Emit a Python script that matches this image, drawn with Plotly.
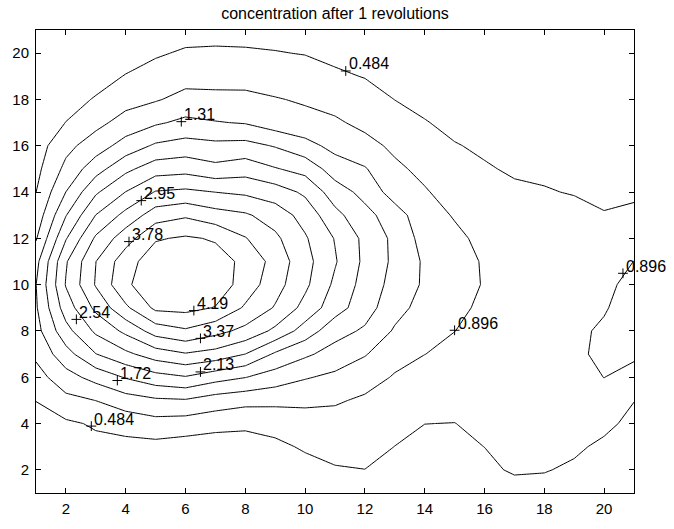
import numpy as np
import plotly.graph_objects as go

# grid coordinates
x_vals = list(range(1, 22))
y_vals = list(range(1, 22))

# concentration values, one list per x column (entries for y = 1 .. 21)
conc_x01 = [0.06,0.14,0.25,0.37,0.49,0.73,0.98,1.16,1.26,1.30,1.18,0.86,0.64,0.48,0.37,0.29,0.23,0.18,0.14,0.11,0.09]
conc_x02 = [0.10,0.20,0.32,0.42,0.78,1.15,1.56,1.99,2.33,2.57,2.50,2.10,1.70,1.31,1.00,0.78,0.49,0.36,0.26,0.19,0.14]
conc_x03 = [0.12,0.24,0.38,0.53,0.90,1.45,2.12,2.62,3.05,3.40,3.36,3.02,2.55,2.07,1.55,1.10,0.78,0.51,0.36,0.26,0.19]
conc_x04 = [0.13,0.24,0.36,0.64,1.12,1.75,2.45,3.05,3.70,4.12,4.02,3.60,3.08,2.55,2.03,1.48,1.05,0.75,0.50,0.34,0.24]
conc_x05 = [0.13,0.24,0.36,0.75,1.24,1.98,2.75,3.55,4.28,4.46,4.42,4.15,3.58,2.98,2.35,1.78,1.25,0.86,0.60,0.45,0.32]
conc_x06 = [0.10,0.20,0.30,0.71,1.27,2.10,2.92,3.72,4.31,4.58,4.55,4.24,3.72,3.04,2.40,1.88,1.40,1.02,0.75,0.52,0.37]
conc_x07 = [0.10,0.18,0.24,0.64,1.11,1.88,2.80,3.50,4.17,4.44,4.35,4.15,3.53,2.95,2.25,1.82,1.33,1.00,0.75,0.53,0.38]
conc_x08 = [0.10,0.20,0.34,0.55,1.03,1.73,2.54,3.25,3.72,4.01,4.10,3.80,3.42,2.88,2.36,1.85,1.28,0.98,0.77,0.52,0.38]
conc_x09 = [0.12,0.25,0.40,0.62,1.00,1.53,2.07,2.86,3.33,3.53,3.62,3.45,3.18,2.74,2.16,1.69,1.10,0.92,0.70,0.50,0.36]
conc_x10 = [0.15,0.35,0.53,0.72,0.98,1.34,1.79,2.36,2.82,3.04,3.10,3.00,2.80,2.47,1.99,1.45,1.02,0.85,0.64,0.47,0.34]
conc_x11 = [0.20,0.45,0.62,0.78,0.93,1.22,1.56,1.87,2.31,2.46,2.58,2.52,2.25,1.92,1.52,1.18,0.95,0.76,0.54,0.40,0.30]
conc_x12 = [0.22,0.48,0.62,0.74,0.85,1.02,1.34,1.66,1.90,1.98,2.04,2.03,1.85,1.59,1.34,1.02,0.80,0.63,0.47,0.36,0.27]
conc_x13 = [0.25,0.38,0.48,0.60,0.72,0.87,1.00,1.26,1.45,1.57,1.63,1.62,1.50,1.12,0.97,0.82,0.64,0.48,0.37,0.29,0.22]
conc_x14 = [0.25,0.33,0.41,0.486,0.60,0.72,0.90,1.04,1.16,1.25,1.25,1.15,1.04,0.93,0.80,0.63,0.50,0.40,0.32,0.25,0.20]
conc_x15 = [0.27,0.34,0.42,0.48,0.58,0.68,0.79,0.90,0.99,1.06,1.05,0.97,0.87,0.74,0.61,0.50,0.41,0.34,0.28,0.23,0.19]
conc_x16 = [0.22,0.42,0.486,0.55,0.60,0.65,0.70,0.76,0.82,0.87,0.86,0.81,0.72,0.62,0.51,0.44,0.37,0.31,0.26,0.22,0.18]
conc_x17 = [0.36,0.52,0.55,0.58,0.61,0.64,0.67,0.70,0.73,0.76,0.75,0.70,0.62,0.53,0.45,0.39,0.34,0.29,0.25,0.21,0.18]
conc_x18 = [0.38,0.50,0.55,0.58,0.61,0.64,0.67,0.70,0.72,0.74,0.72,0.66,0.57,0.50,0.44,0.38,0.33,0.28,0.24,0.21,0.18]
conc_x19 = [0.35,0.44,0.53,0.60,0.68,0.76,0.82,0.82,0.78,0.75,0.72,0.66,0.56,0.47,0.41,0.36,0.31,0.27,0.23,0.20,0.17]
conc_x20 = [0.28,0.35,0.43,0.55,0.78,0.90,0.98,0.95,0.864,0.80,0.72,0.62,0.50,0.42,0.37,0.32,0.28,0.25,0.22,0.19,0.16]
conc_x21 = [0.22,0.28,0.34,0.41,0.49,0.72,0.98,1.05,1.07,1.02,0.90,0.70,0.55,0.43,0.37,0.32,0.28,0.25,0.22,0.19,0.17]

columns = [conc_x01, conc_x02, conc_x03, conc_x04, conc_x05, conc_x06, conc_x07,
           conc_x08, conc_x09, conc_x10, conc_x11, conc_x12, conc_x13, conc_x14,
           conc_x15, conc_x16, conc_x17, conc_x18, conc_x19, conc_x20, conc_x21]
z = np.array(columns).T  # rows = y, cols = x

# contour levels
level_start = 0.484
level_step = 0.41167
level_end = 4.19

# inline contour labels (clabel style)
label_x = [11.36, 5.86, 4.52, 4.11, 6.28, 6.50, 6.50, 2.35, 3.72, 2.85, 15.00, 20.63]
label_y = [19.23, 17.04, 13.63, 11.86, 8.88, 7.68, 6.23, 8.50, 5.86, 3.89, 8.03, 10.49]
label_text = ["0.484", "1.31", "2.95", "3.78", "4.19", "3.37", "2.13", "2.54", "1.72", "0.484", "0.896", "0.896"]

tick_vals = [2, 4, 6, 8, 10, 12, 14, 16, 18, 20]

font_family = "Liberation Sans, Arial, Helvetica, sans-serif"

fig = go.Figure()
fig.add_trace(go.Contour(
    x=x_vals, y=y_vals, z=z,
    autocontour=False,
    contours=dict(start=level_start, end=level_end, size=level_step,
                  coloring="lines", showlabels=False),
    colorscale=[[0, "black"], [1, "black"]],
    line=dict(width=1, smoothing=0),
    showscale=False,
    hoverinfo="skip",
))
fig.add_trace(go.Scatter(
    x=label_x, y=label_y, mode="markers",
    marker=dict(symbol="cross-thin", size=7, line=dict(width=1, color="black"), color="black"),
    hoverinfo="skip", showlegend=False, cliponaxis=False,
))
for lx, ly, lt in zip(label_x, label_y, label_text):
    fig.add_annotation(
        x=lx, y=ly, xref="x", yref="y", text=lt, showarrow=False,
        xanchor="left", yanchor="middle", xshift=1, yshift=7,
        font=dict(family=font_family, size=16, color="black"),
    )

axis_common = dict(
    range=[1, 21], tickvals=tick_vals, ticks="inside", ticklen=5, tickcolor="black",
    mirror="allticks", showline=True, linecolor="black", linewidth=1,
    showgrid=False, zeroline=False,
    tickfont=dict(family=font_family, size=15, color="black"),
)

fig.update_layout(
    width=674, height=529,
    margin=dict(l=35, r=40, t=30, b=29),
    paper_bgcolor="white", plot_bgcolor="white",
    showlegend=False,
    title=dict(text="concentration after 1 revolutions", x=0.5, xref="paper",
               y=1 - 13 / 529, yanchor="middle",
               font=dict(family=font_family, size=16, color="black")),
    xaxis=dict(axis_common, ticklabelstandoff=2),
    yaxis=dict(axis_common, ticklabelstandoff=3),
)

fig.write_html("out.html")
